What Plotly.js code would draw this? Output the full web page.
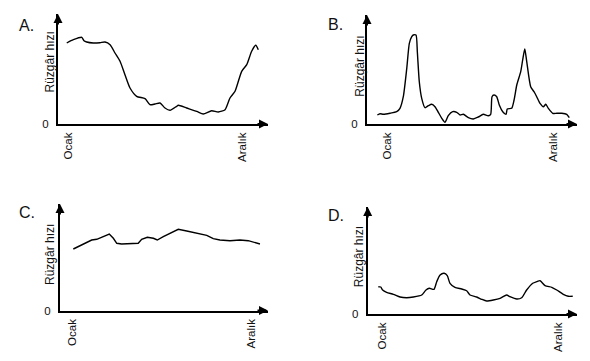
<!DOCTYPE html>
<html><head><meta charset="utf-8">
<script src="https://cdn.plot.ly/plotly-3.0.1.min.js"></script>
<style>html,body{margin:0;padding:0;background:#fff}#chart{width:590px;height:361px}</style>
</head><body><div id="chart"></div>
<script>
// ---- data (x = month index, Ocak = 1 ... Aralık = 12; y = relative wind speed) ----
const panelLetters = ['A.', 'B.', 'C.', 'D.'];
const xTickMonths = [1, 12];
const xTickLabels = ['Ocak', 'Aralık'];
const yTickValues = [0];
const yTickLabels = ['0'];
const yTitle = 'Rüzgâr hızı';

const monthsA = [0.92,1.34,1.87,2.01,2.18,2.60,3.02,3.34,3.66,3.97,4.29,4.60,4.92,5.34,5.87,6.18,6.50,6.82,7.13,7.45,7.87,7.97,8.50,9.14,9.55,10.08,10.50,10.93,11.24,11.56,11.98,12.30,12.61,12.87,13.03];
const windA = [8.10,8.43,8.67,8.33,8.20,8.10,8.13,8.20,7.93,7.10,6.27,4.93,3.60,2.77,2.53,1.93,2.00,2.10,1.60,1.37,1.77,1.87,1.60,1.27,1.00,1.33,1.20,1.43,2.60,3.27,5.27,5.93,7.27,7.87,7.43];

const monthsB = [0.36,0.54,0.76,1.20,1.64,1.86,2.08,2.31,2.48,2.64,2.74,2.92,3.01,3.14,3.30,3.52,3.74,3.96,4.18,4.40,4.63,4.84,5.06,5.35,5.62,5.84,6.06,6.39,6.72,7.05,7.38,7.71,7.87,7.96,8.09,8.27,8.44,8.67,8.89,8.97,9.26,9.42,9.60,9.86,9.99,10.13,10.26,10.52,10.74,10.92,11.14,11.36,11.52,11.69,11.98,12.25,12.58,12.91,13.08];
const windB = [0.90,1.03,0.97,1.07,1.23,1.57,2.73,5.57,8.07,8.73,8.90,8.90,7.23,4.23,2.57,1.63,1.83,1.97,1.73,1.17,0.57,0.17,0.83,1.23,1.17,0.90,0.97,0.63,0.50,0.70,0.97,0.83,0.97,2.73,2.90,2.73,1.90,1.23,0.97,1.50,1.57,2.40,3.90,5.23,6.40,7.50,6.23,3.73,3.23,2.73,2.07,1.73,1.97,1.57,1.07,1.07,1.07,0.97,0.63];

const monthsC = [1.05,1.46,1.87,2.18,2.49,2.89,3.26,3.51,3.72,4.02,4.53,5.04,5.25,5.60,5.97,6.21,6.58,6.99,7.50,8.02,8.63,9.25,9.65,10.06,10.68,11.29,11.80,12.22,12.52];
const windC = [6.15,6.45,6.78,7.05,7.12,7.38,7.65,7.22,6.72,6.65,6.65,6.72,7.12,7.32,7.22,7.05,7.38,7.72,8.12,7.95,7.72,7.52,7.18,7.05,6.98,7.05,6.98,6.82,6.65];

const monthsD = [0.77,0.92,1.04,1.29,1.71,2.13,2.54,2.96,3.48,3.75,3.96,4.25,4.42,4.63,4.88,5.08,5.25,5.56,5.98,6.29,6.50,6.92,7.23,7.54,7.96,8.38,8.79,9.00,9.42,9.73,10.04,10.42,10.67,10.88,11.19,11.61,11.92,12.33,12.64,12.92];
const windD = [2.73,2.70,2.40,2.17,1.97,1.70,1.63,1.70,1.90,2.40,2.57,2.47,3.23,3.90,4.07,3.83,3.07,2.67,2.50,2.33,1.90,1.70,1.47,1.30,1.40,1.57,1.90,1.73,1.50,1.63,2.40,3.07,3.23,3.33,2.83,2.67,2.40,1.97,1.77,1.77];

// ---- layout geometry (pixels in the 590x361 page) ----
const W = 590, H = 361;
const FONT = 'Liberation Sans, Arial, sans-serif';
const TXT = '#111';
const panels = [
  {L: 58,  R: 268, B: 124,   T: 14,  oc: 68,  ar: 242, letter: [17, 25],  title: [49, 62.5], x: monthsA, y: windA, shape: 'spline'},
  {L: 367, R: 577, B: 124,   T: 15,  oc: 387, ar: 553, letter: [326, 24], title: [360, 66.7], x: monthsB, y: windB, shape: 'spline'},
  {L: 60,  R: 268, B: 310.5, T: 204, oc: 72.5, ar: 251.5, letter: [17, 212.5], title: [50, 255], x: monthsC, y: windC, shape: 'linear'},
  {L: 367.7, R: 577, B: 314, T: 207, oc: 382, ar: 558, letter: [326, 216], title: [358.5, 256.7], x: monthsD, y: windD, shape: 'spline'}
];

const data = [];
const layout = {
  width: W, height: H,
  margin: {l: 0, r: 0, t: 0, b: 0, pad: 0},
  paper_bgcolor: '#fff', plot_bgcolor: '#fff',
  showlegend: false,
  annotations: []
};

panels.forEach((p, i) => {
  const s = i === 0 ? '' : String(i + 1);
  const pxPerMonth = (p.ar - p.oc) / 11;
  const m = px => 1 + (px - p.oc) / pxPerMonth;
  const xr = [m(p.L), m(p.R)];
  const yr = [0, (p.B - p.T) / 10];

  data.push({
    type: 'scatter', mode: 'lines',
    x: p.x, y: p.y,
    xaxis: 'x' + s, yaxis: 'y' + s,
    line: {color: '#000', width: 1.4, shape: p.shape, smoothing: 0.6},
    hoverinfo: 'skip'
  });

  layout['xaxis' + s] = {
    domain: [p.L / W, p.R / W], range: xr, anchor: 'y' + s,
    showline: true, linecolor: '#000', linewidth: 2,
    showgrid: false, zeroline: false,
    tickmode: 'array', tickvals: xTickMonths, ticktext: xTickLabels,
    tickangle: -90, ticks: '', ticklabelstandoff: 2,
    tickfont: {family: FONT, size: 11.5, color: TXT},
    fixedrange: true
  };
  layout['yaxis' + s] = {
    domain: [1 - p.B / H, 1 - p.T / H], range: yr, anchor: 'x' + s,
    showline: true, linecolor: '#000', linewidth: 2,
    showgrid: false, zeroline: false,
    tickmode: 'array', tickvals: yTickValues, ticktext: yTickLabels,
    ticks: '', ticklabelstandoff: 5,
    tickfont: {family: FONT, size: 11.5, color: TXT},
    fixedrange: true
  };

  // arrow heads at axis ends
  layout.annotations.push({
    xref: 'x' + s, yref: 'y' + s, x: xr[1], y: 0, ax: -12, ay: 0,
    text: '', showarrow: true, arrowhead: 2, arrowsize: 0.9, arrowwidth: 2, arrowcolor: '#000'
  });
  layout.annotations.push({
    xref: 'x' + s, yref: 'y' + s, x: xr[0], y: yr[1], ax: 0, ay: 12,
    text: '', showarrow: true, arrowhead: 2, arrowsize: 0.9, arrowwidth: 2, arrowcolor: '#000'
  });
  // y axis title
  layout.annotations.push({
    xref: 'paper', yref: 'paper', x: p.title[0] / W, y: 1 - p.title[1] / H,
    xanchor: 'center', yanchor: 'middle', textangle: -90, showarrow: false,
    text: yTitle, font: {family: FONT, size: 12, color: TXT}
  });
  // panel letter
  layout.annotations.push({
    xref: 'paper', yref: 'paper', x: p.letter[0] / W, y: 1 - p.letter[1] / H,
    xanchor: 'left', yanchor: 'middle', showarrow: false,
    text: panelLetters[i], font: {family: FONT, size: 16, color: TXT}
  });
});

Plotly.newPlot('chart', data, layout, {staticPlot: true, displayModeBar: false});
</script>
</body></html>
